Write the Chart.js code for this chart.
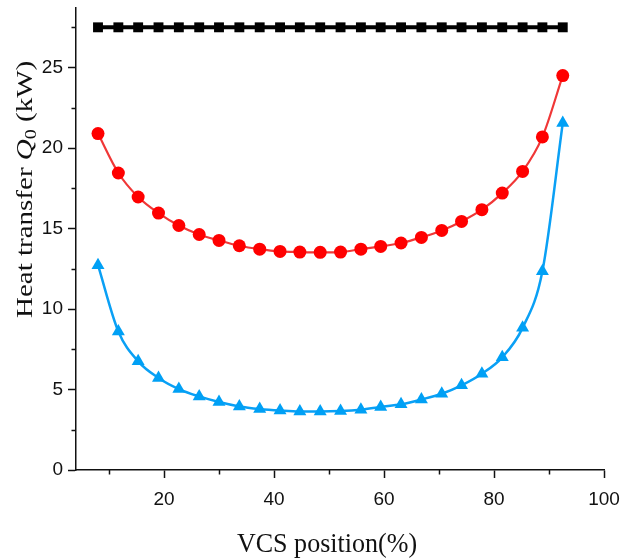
<!DOCTYPE html>
<html>
<head>
<meta charset="utf-8">
<script src="https://cdn.jsdelivr.net/npm/chart.js@4.4.1/dist/chart.umd.min.js"></script>
<style>
  html, body { margin: 0; padding: 0; background: #fff; }
  #wrap { position: relative; width: 622px; height: 560px; }
</style>
</head>
<body>
<div id="wrap"><canvas id="chart"></canvas></div>
<script>
// VCS position (%) of each sample
const vcsPosition = [8.0, 11.7, 15.3, 19.0, 22.7, 26.4, 30.0, 33.7, 37.4, 41.1, 44.7, 48.4,
  52.1, 55.8, 59.4, 63.1, 66.8, 70.5, 74.1, 77.8, 81.5, 85.2, 88.8, 92.5];

// Heat transfer Q0 (kW)
const blackSeries = [27.5, 27.5, 27.5, 27.5, 27.5, 27.5, 27.5, 27.5, 27.5, 27.5, 27.5, 27.5,
  27.5, 27.5, 27.5, 27.5, 27.5, 27.5, 27.5, 27.5, 27.5, 27.5, 27.5, 27.5];
const redSeries = [20.9, 18.45, 16.96, 15.96, 15.19, 14.63, 14.26, 13.93, 13.72, 13.58, 13.54, 13.52,
  13.54, 13.72, 13.89, 14.1, 14.45, 14.88, 15.44, 16.17, 17.2, 18.55, 20.69, 24.5];
const blueSeries = [12.72, 8.6, 6.75, 5.72, 5.03, 4.57, 4.22, 3.95, 3.79, 3.69, 3.63, 3.63,
  3.66, 3.75, 3.92, 4.08, 4.38, 4.74, 5.26, 5.98, 7.0, 8.83, 12.35, 21.55];

const xMajorTicks = [20, 40, 60, 80, 100];
const xMinorTicks = [10, 30, 50, 70, 90];
const yMajorTicks = [0, 5, 10, 15, 20, 25];
const yMinorTicks = [2.5, 7.5, 12.5, 17.5, 22.5, 27.5];

const pts = (ys) => vcsPosition.map((x, i) => ({ x, y: ys[i] }));

/* minor ticks and the two axis titles (the y title mixes italic Q with a subscript) */
const axisExtras = {
  id: 'axisExtras',
  afterDraw(chart) {
    const { ctx, scales: { x, y } } = chart;
    ctx.save();
    ctx.strokeStyle = '#111';
    ctx.lineWidth = 1.5;
    ctx.beginPath();
    yMinorTicks.forEach((v) => {
      const py = Math.round(y.getPixelForValue(v)) + 0.5;
      ctx.moveTo(x.left - 4.5, py);
      ctx.lineTo(x.left, py);
    });
    xMinorTicks.forEach((v) => {
      const px = Math.round(x.getPixelForValue(v)) + 0.5;
      ctx.moveTo(px, y.bottom);
      ctx.lineTo(px, y.bottom + 4.5);
    });
    ctx.stroke();

    ctx.fillStyle = '#111';
    ctx.textBaseline = 'alphabetic';

    // x title
    ctx.save();
    ctx.font = '28px "Liberation Serif"';
    ctx.translate(327, 552);
    ctx.scale(0.93, 1);
    ctx.textAlign = 'center';
    ctx.fillText('VCS position(%)', 0, 0);
    ctx.restore();

    // y title, read bottom to top
    ctx.save();
    ctx.translate(32, 318);
    ctx.rotate(-Math.PI / 2);
    ctx.scale(1, 0.8);
    ctx.textAlign = 'left';
    let cx = 0;
    const piece = (text, font, dy) => {
      ctx.font = font;
      ctx.fillText(text, cx, dy);
      cx += ctx.measureText(text).width;
    };
    piece('Heat transfer ', '29px "Liberation Serif"', 0);
    piece('Q', 'italic 29px "Liberation Serif"', 0);
    piece('0', '20px "Liberation Serif"', 5);
    piece(' (kW)', '29px "Liberation Serif"', 0);
    ctx.restore();

    ctx.restore();
  },
};

const tickFont = { family: '"Liberation Sans", Arial, sans-serif', size: 19 };

new Chart(document.getElementById('chart'), {
  type: 'line',
  data: {
    datasets: [
      {
        data: pts(blackSeries),
        borderColor: '#000',
        backgroundColor: '#000',
        borderWidth: 4,
        pointStyle: 'rect',
        pointRadius: 7,
        pointBorderWidth: 0,
        tension: 0,
      },
      {
        data: pts(redSeries),
        borderColor: 'rgb(240, 55, 55)',
        backgroundColor: '#ff0000',
        borderWidth: 2.2,
        pointStyle: 'circle',
        pointRadius: 6.5,
        pointBorderWidth: 0,
        cubicInterpolationMode: 'monotone',
      },
      {
        data: pts(blueSeries),
        borderColor: 'rgb(10, 160, 245)',
        backgroundColor: 'rgb(0, 160, 245)',
        borderWidth: 2.5,
        pointStyle: 'triangle',
        pointRadius: 7.5,
        pointBorderWidth: 0,
        cubicInterpolationMode: 'monotone',
      },
    ],
  },
  options: {
    responsive: true,
    maintainAspectRatio: false,
    animation: false,
    layout: { padding: { top: 8, right: 18, left: 0, bottom: 0 } },
    plugins: { legend: { display: false }, tooltip: { enabled: false } },
    scales: {
      x: {
        type: 'linear',
        min: 4,
        max: 100,
        afterBuildTicks: (s) => { s.ticks = xMajorTicks.map((value) => ({ value })); },
        afterFit: (s) => { s.height = 90; s.paddingLeft = 0; s.paddingRight = 0; },
        grid: { drawOnChartArea: false, tickLength: 8, tickColor: '#111', tickWidth: 1.5 },
        border: { color: '#111', width: 1.5 },
        ticks: { color: '#111', font: tickFont, padding: 10, maxRotation: 0 },
      },
      y: {
        min: 0,
        max: 28.7,
        afterBuildTicks: (s) => { s.ticks = yMajorTicks.map((value) => ({ value })); },
        afterFit: (s) => { s.width = 76; s.paddingTop = 0; s.paddingBottom = 0; },
        grid: { drawOnChartArea: false, tickLength: 8, tickColor: '#111', tickWidth: 1.5 },
        border: { color: '#111', width: 1.5 },
        ticks: { color: '#111', font: tickFont, padding: 5 },
      },
    },
  },
  plugins: [axisExtras],
});
</script>
</body>
</html>
